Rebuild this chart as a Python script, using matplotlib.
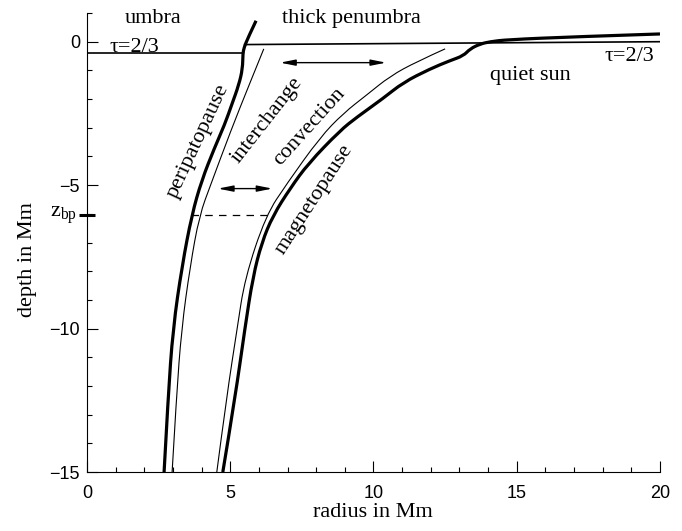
"""Sketch of sunspot flux-tube boundaries: depth vs radius."""

import matplotlib
matplotlib.use("Agg")
import matplotlib.pyplot as plt
import numpy as np
from matplotlib.patches import PathPatch
from matplotlib.path import Path
from matplotlib.ticker import MultipleLocator

# boundary curves (radius, depth in Mm)
peri_x = [5.90, 5.62, 5.48, 5.44, 5.43, 5.30, 5.05, 4.80, 4.45, 4.00, 3.66, 3.32, 3.00, 2.83, 2.69]
peri_y = [0.73, 0.14, -0.21, -0.42, -0.94, -1.50, -2.20, -2.90, -3.70, -4.84, -6.03, -7.80, -10.0, -12.4, -15.0]

inter_x = [6.17, 5.66, 5.02, 4.33, 3.92, 3.60, 3.30, 3.12, 2.97]
inter_y = [-0.25, -1.50, -3.10, -4.95, -6.06, -7.83, -10.0, -12.4, -15.0]

conv_x = [12.50, 11.50, 10.58, 9.77, 8.94, 8.13, 6.98, 6.24, 5.51, 5.24, 4.87, 4.53]
conv_y = [-0.25, -0.70, -1.20, -1.85, -2.50, -3.34, -4.94, -6.06, -8.25, -10.0, -12.4, -15.0]

magneto_x = [20.0, 16.96, 14.66, 14.07, 13.72, 13.37, 13.14, 12.67, 11.97, 11.04, 10.33, 9.42,
             8.83, 7.72, 7.10, 6.49, 6.10, 5.79, 5.51, 5.17, 4.74]
magneto_y = [0.27, 0.17, 0.07, 0.0, -0.08, -0.25, -0.49, -0.66, -0.95, -1.42, -1.98, -2.63,
             -3.10, -4.25, -5.10, -6.06, -7.00, -8.20, -10.0, -12.4, -15.0]

# tau = 2/3 levels
umbra_tau_x = [0.0, 5.44]
umbra_tau_y = [-0.38, -0.38]
penumbra_tau_x = [5.5, 20.0]
penumbra_tau_y = [-0.10, 0.0]

z_bp = -6.05
dash_x = [3.63, 6.50]
arrow_top = (6.74, 10.44, -0.73)
arrow_mid = (4.57, 6.47, -5.12)

serif = "Liberation Serif"
plt.rcParams["mathtext.fontset"] = "custom"
plt.rcParams["mathtext.rm"] = serif
plt.rcParams["mathtext.it"] = serif + ":italic"


def smooth_path(xs, ys):
    # quadratic B-spline through the read points, keeps the ends fixed
    pts = np.column_stack([xs, ys])
    verts = [pts[0]]
    codes = [Path.MOVETO]
    for i in range(1, len(pts) - 1):
        end = pts[i + 1] if i == len(pts) - 2 else (pts[i] + pts[i + 1]) / 2
        verts += [pts[i], end]
        codes += [Path.CURVE3, Path.CURVE3]
    if len(pts) == 2:
        verts.append(pts[1])
        codes.append(Path.LINETO)
    return Path(verts, codes)


fig = plt.figure(figsize=(6.82, 5.31), dpi=100)
ax = fig.add_axes([0.1276, 0.111, 0.8401, 0.8645])

for xs, ys, lw in ((peri_x, peri_y, 2.3), (inter_x, inter_y, 0.8),
                   (conv_x, conv_y, 0.8), (magneto_x, magneto_y, 2.3)):
    ax.add_patch(PathPatch(smooth_path(xs, ys), fill=False, edgecolor="black",
                           lw=lw, capstyle="butt", joinstyle="round"))

ax.plot(umbra_tau_x, umbra_tau_y, color="black", lw=1.2)
ax.plot(penumbra_tau_x, penumbra_tau_y, color="black", lw=1.2)
ax.plot(dash_x, [z_bp, z_bp], color="black", lw=0.9, dashes=(6, 5))

for x0, x1, y in (arrow_top, arrow_mid):
    ax.annotate("", xy=(x1, y), xytext=(x0, y),
                arrowprops=dict(arrowstyle="<|-|>,head_length=0.9,head_width=0.18",
                                color="black", lw=1.0, shrinkA=0, shrinkB=0))

# z_bp marker on the depth axis
ax.plot([0], [z_bp], marker="_", markersize=12, mew=2.2, color="black", clip_on=False)
ax.text(-1.30, z_bp, r"$\mathrm{z}_{\mathrm{bp}}$", fontsize=16, ha="left", va="center")

txt = dict(family=serif, fontsize=16, color="black")
ax.text(1.33, 0.8, "umbra", ha="left", va="center", **txt)
ax.text(0.80, -0.36, "τ=2/3", ha="left", va="baseline", **txt)
ax.text(6.80, 0.8, "thick penumbra", ha="left", va="center", **txt)
ax.text(18.08, -0.5, "τ=2/3", ha="left", va="center", **txt)
ax.text(14.07, -1.18, "quiet sun", ha="left", va="center", **txt)
ax.text(3.87, -3.45, "peripatopause", rotation=65, ha="center", va="center",
        rotation_mode="anchor", **txt)
ax.text(6.28, -2.75, "interchange", rotation=52, ha="center", va="center",
        rotation_mode="anchor", **txt)
ax.text(7.75, -2.96, "convection", rotation=48, ha="center", va="center",
        rotation_mode="anchor", **txt)
ax.text(7.92, -5.5, "magnetopause", rotation=57, ha="center", va="center",
        rotation_mode="anchor", **txt)

ax.set_xlim(0, 20)
ax.set_ylim(-15, 1.0)
ax.xaxis.set_major_locator(MultipleLocator(5))
ax.xaxis.set_minor_locator(MultipleLocator(1))
ax.yaxis.set_major_locator(MultipleLocator(5))
ax.yaxis.set_minor_locator(MultipleLocator(1))
ax.tick_params(which="both", direction="in", top=False, right=False, width=0.8)
ax.tick_params(which="major", length=8)
ax.tick_params(which="minor", length=3.6)
ax.tick_params(axis="x", pad=9)
ax.tick_params(axis="y", pad=5)
for lab in ax.get_xticklabels() + ax.get_yticklabels():
    lab.set_family("Liberation Sans")
    lab.set_fontsize(13)

ax.spines["top"].set_visible(False)
ax.spines["right"].set_visible(False)
ax.spines["left"].set_linewidth(0.8)
ax.spines["bottom"].set_linewidth(0.8)

ax.set_xlabel("radius in Mm", **txt)
ax.set_ylabel("depth in Mm", **txt)
ax.xaxis.set_label_coords(0.499, -0.0675)
ax.yaxis.set_label_coords(-0.088, 0.463)

fig.savefig("out.png", dpi=100)
